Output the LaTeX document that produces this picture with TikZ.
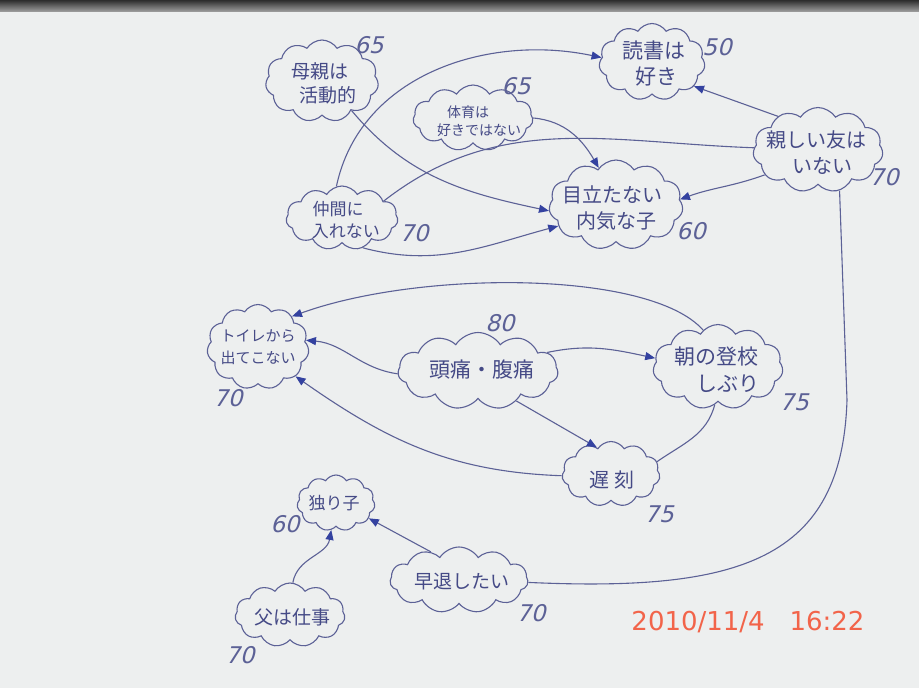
\documentclass[tikz,border=0pt]{standalone}
\usepackage{fontspec}
\setmainfont{Noto Sans CJK JP}
\newfontfamily\numfont[FakeSlant=0.25]{DejaVu Sans}
\newfontfamily\stampfont{DejaVu Sans}
\usetikzlibrary{shapes.symbols,arrows.meta}
\definecolor{bgc}{HTML}{EDEFEF}
\definecolor{linec}{HTML}{5C6196}
\definecolor{textc}{HTML}{454A86}
\definecolor{tipc}{HTML}{3442A0}
\definecolor{stampc}{HTML}{F2644A}
\tikzset{
  thought/.style={shape=cloud, cloud puffs=11, cloud puff arc=115, cloud ignores aspect,
    draw=linec, line width=1.1pt, inner sep=0pt},
  lbl/.style={text=textc, align=center, inner sep=0pt, font=\fontsize{19}{24}\selectfont},
  score/.style={text=linec, font=\numfont\fontsize{23}{23}\selectfont, inner sep=0pt},
  link/.style={draw=linec, line width=1.1pt},
  arr/.style={link, -{Triangle[length=10pt,width=8pt,fill=tipc,color=tipc]}},
}
\begin{document}
\begin{tikzpicture}[x=1pt,y=-1pt]
\fill[bgc] (0,0) rectangle (919,688);
\shade[top color=black!65!gray, bottom color=gray!80] (0,0) rectangle (919,11);
\useasboundingbox (0,0) rectangle (919,688);

% clouds
\node[thought, minimum width=113pt, minimum height=82pt] (haha) at (322,81) {};
\node[thought, minimum width=106pt, minimum height=77pt] (dokusho) at (652,62) {};
\node[thought, minimum width=120pt, minimum height=66pt] (taiiku) at (473,118) {};
\node[thought, minimum width=130pt, minimum height=85pt] (shitashii) at (818,150) {};
\node[thought, minimum width=134pt, minimum height=90pt] (medatanai) at (616,205) {};
\node[thought, minimum width=112pt, minimum height=64pt] (nakama) at (342,218) {};
\node[thought, minimum width=102pt, minimum height=85pt] (toilet) at (258,347) {};
\node[thought, minimum width=160pt, minimum height=77pt] (zutsu) at (478,371) {};
\node[thought, minimum width=130pt, minimum height=85pt] (asa) at (718,367) {};
\node[thought, minimum width=98pt, minimum height=65pt] (chikoku) at (611,474) {};
\node[thought, minimum width=78pt, minimum height=56pt] (hitori) at (336,503) {};
\node[thought, minimum width=110pt, minimum height=64pt] (chichi) at (290,615) {};
\node[thought, minimum width=138pt, minimum height=66pt] (soutai) at (459,580) {};

% cloud texts
\node[lbl] (thaha) at (322,83) {母親は\ \ \\\ \ \ 活動的};
\node[lbl, font=\fontsize{21}{26}\selectfont] (tdokusho) at (654,64) {読書は\\\ 好き};
\node[lbl, font=\fontsize{14}{18}\selectfont] (ttaiiku) at (476,121) {体育は\ \ \ \ \ \ \\\ \ 好きではない};
\node[lbl, font=\fontsize{20}{26}\selectfont] (tshitashii) at (816,153) {親しい友は\\\ \ \ いない};
\node[lbl, font=\fontsize{20}{26}\selectfont] (tmedatanai) at (612,208) {目立たない\\\ \ 内気な子};
\node[lbl, font=\fontsize{17}{22}\selectfont] (tnakama) at (342,220) {仲間に\ \ \ \\\ \ 入れない};
\node[lbl, font=\fontsize{15}{22}\selectfont] (ttoilet) at (258,347) {トイレから\\出てこない};
\node[lbl, font=\fontsize{21}{24}\selectfont] (tzutsu) at (482,370) {頭痛・腹痛};
\node[lbl, font=\fontsize{21}{27}\selectfont] (tasa) at (716,370) {朝の登校\\\ \ \ \ \ しぶり};
\node[lbl, font=\fontsize{20}{24}\selectfont] (tchikoku) at (612,480) {遅\ 刻};
\node[lbl, font=\fontsize{17}{20}\selectfont] (thitori) at (334,503) {独り子};
\node[lbl] (tchichi) at (292,617) {父は仕事};
\node[lbl, font=\fontsize{19}{24}\selectfont] (tsoutai) at (462,582) {早退したい};

% scores
\node[score] (s1) at (369,45) {65};
\node[score] (s2) at (717,47) {50};
\node[score] (s3) at (516,86) {65};
\node[score] (s4) at (884,177) {70};
\node[score] (s5) at (691,231) {60};
\node[score] (s6) at (414,233) {70};
\node[score] (s7) at (228,398) {70};
\node[score] (s8) at (500,323) {80};
\node[score] (s9) at (794,402) {75};
\node[score] (s10) at (659,514) {75};
\node[score] (s11) at (285,524) {60};
\node[score] (s12) at (240,655) {70};
\node[score] (s13) at (531,613) {70};

\node[text=stampc, font=\stampfont\fontsize{26}{26}\selectfont, inner sep=0pt] (stamp) at (748,622) {2010/11/4\ \ \ 16:22};

% connectors
\draw[arr] (nakama.100) to[out=78, in=168] (dokusho.175);
\draw[arr] (haha.-45) to[out=-50, in=168] (medatanai.185);
\draw[arr] (taiiku.east) to[out=-5, in=120] (medatanai.115);
\draw[link] (shitashii.178) to[out=178, in=38] (nakama.22);
\draw[arr] (nakama.-55) to[out=-15, in=195] (medatanai.200);
\draw[arr] (shitashii.205) to[out=200, in=20] (medatanai.5);
\draw[arr] (shitashii.140) -- (dokusho.-30);
\draw[link] (shitashii.-62) -- (847,400) .. controls (842,560) and (740,592) .. (soutai.-2);
\draw[arr] (asa.112) .. controls (650,270) and (420,270) .. (toilet.42);
\draw[arr] (zutsu.182) to[out=172, in=-5] (toilet.8);
\draw[arr] (chikoku.182) to[out=178, in=-35] (toilet.-38);
\draw[arr] (zutsu.15) to[out=12, in=168] (asa.172);
\draw[arr] (zutsu.-38) -- (chikoku.118);
\draw[link] (asa.-95) to[out=-105, in=35] (chikoku.15);
\draw[arr] (chichi.85) to[out=80, in=-100] (hitori.-100);
\draw[arr] (soutai.135) -- (hitori.-25);
\end{tikzpicture}
\end{document}
